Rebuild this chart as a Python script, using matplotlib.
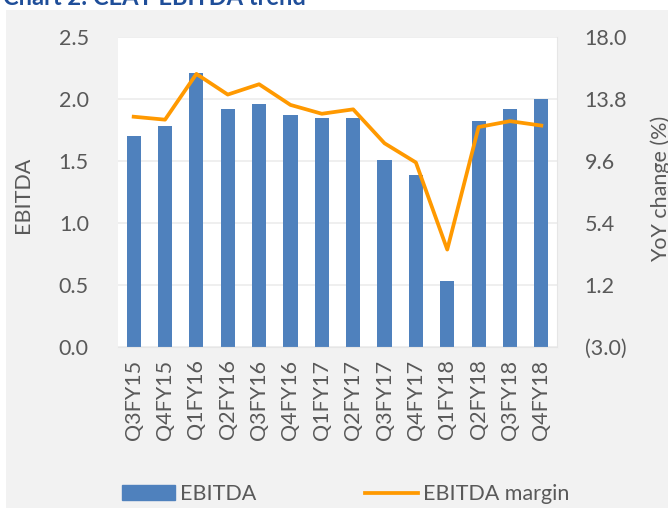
import matplotlib.pyplot as plt
import matplotlib.patches as mpatches
from matplotlib.lines import Line2D
from matplotlib.ticker import FuncFormatter

# 데이터
quarters = ["Q3FY15", "Q4FY15", "Q1FY16", "Q2FY16", "Q3FY16", "Q4FY16", "Q1FY17",
            "Q2FY17", "Q3FY17", "Q4FY17", "Q1FY18", "Q2FY18", "Q3FY18", "Q4FY18"]
ebitda = [1.70, 1.78, 2.21, 1.92, 1.96, 1.87, 1.85, 1.85, 1.51, 1.39, 0.53, 1.82, 1.92, 2.00]
ebitda_margin = [12.6, 12.4, 15.5, 14.1, 14.8, 13.4, 12.8, 13.1, 10.8, 9.5, 3.6, 11.9, 12.3, 12.0]
left_ticks = [0.0, 0.5, 1.0, 1.5, 2.0, 2.5]
right_ticks = [-3.0, 1.2, 5.4, 9.6, 13.8, 18.0]

plt.rcParams['font.family'] = ['Lato', 'DejaVu Sans']
text_color = '#595959'
bar_color = '#4f81bd'
line_color = '#ff9900'
grid_color = '#ececec'
fs = 15.5

fig = plt.figure(figsize=(6.68, 5.08), dpi=100)
fig.patch.set_facecolor('white')
# 회색 배경
fig.patches.append(mpatches.Rectangle((6 / 668, 0), 1, (508 - 10) / 508, transform=fig.transFigure,
                                      facecolor='#f2f2f2', edgecolor='none', zorder=-10))
# 잘린 제목
fig.text(0.005, 1.005, "Chart 2: CEAT EBITDA trend", color='#1f4e99', fontsize=17, fontweight='bold',
         ha='left', va='center')

ax = fig.add_axes([118 / 668, (508 - 347) / 508, (557 - 118) / 668, (347 - 37) / 508])
ax.set_facecolor('white')
x = range(len(quarters))
ax.bar(x, ebitda, width=0.45, color=bar_color, zorder=2)
ax.set_xlim(-0.5, len(quarters) - 0.5)
ax.set_ylim(0, 2.5)
ax.set_yticks(left_ticks)
ax.set_yticklabels([f"{v:.1f}" for v in left_ticks])
ax.set_xticks(list(x))
ax.set_xticklabels(quarters, rotation=90)
ax.tick_params(axis='both', colors=text_color, labelsize=fs, length=0)
ax.tick_params(axis='y', pad=21)
ax.tick_params(axis='x', pad=9)
ax.yaxis.grid(True, color=grid_color, linewidth=1.2, zorder=0)
for s in ['top', 'left']:
    ax.spines[s].set_visible(False)
ax.spines['bottom'].set_color('#e6e6e6')
ax.spines['right'].set_color('#e6e6e6')
ax.set_ylabel("EBITDA", color=text_color, fontsize=fs)
ax.yaxis.set_label_coords(-0.194, 0.49)

ax2 = ax.twinx()
ax2.plot(list(x), ebitda_margin, color=line_color, linewidth=2.7, zorder=3)
ax2.set_ylim(-3, 18)
ax2.set_yticks(right_ticks)
ax2.yaxis.set_major_formatter(FuncFormatter(lambda v, p: f"({abs(v):.1f})" if v < 0 else f"{v:.1f}"))
ax2.tick_params(axis='y', colors=text_color, labelsize=fs, length=0, pad=20)
for s in ['top', 'left', 'bottom', 'right']:
    ax2.spines[s].set_visible(False)
ax2.set_ylabel("YoY change (%)", color=text_color, fontsize=fs)
ax2.yaxis.set_label_coords(1.212, 0.51)

handles = [mpatches.Patch(color=bar_color), Line2D([0], [0], color=line_color, linewidth=2.7)]
fig.legend(handles, ["EBITDA", "EBITDA margin"], loc='center left', bbox_to_anchor=(103 / 668, 1 - 494 / 508),
           ncol=2, frameon=False, fontsize=fs, handlelength=2.45, handleheight=0.65,
           handletextpad=0.25, columnspacing=5.03, labelcolor=text_color)

fig.savefig("out.png", dpi=100)
